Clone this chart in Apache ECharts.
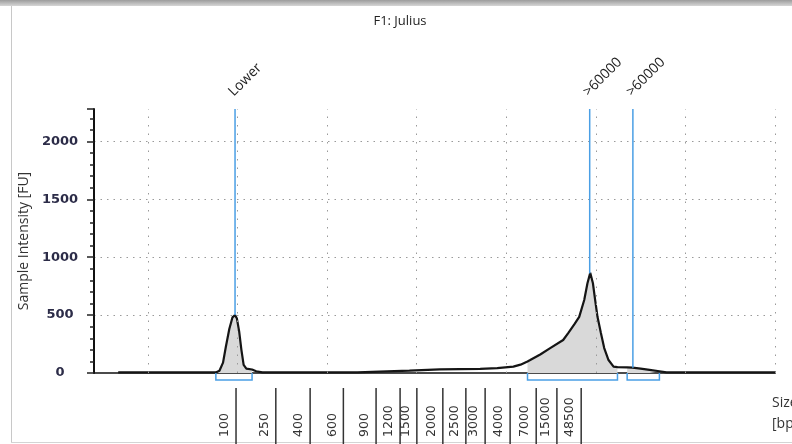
<!DOCTYPE html>
<html>
<head>
<meta charset="utf-8">
<script src="https://cdn.jsdelivr.net/npm/echarts@6/dist/echarts.min.js"></script>
<style>
html,body{margin:0;padding:0;background:#fff;}
#chart{width:792px;height:444px;}
</style>
</head>
<body>
<div id="chart"></div>
<script>
// Electropherogram trace: [migration time (s), intensity FU]
const trace = [
  [46.7, 5], [57.6, 5], [58.0, 20], [58.4, 90], [58.7, 220], [59.1, 380],
  [59.45, 480], [59.74, 500], [59.95, 470], [60.2, 360], [60.45, 200],
  [60.7, 70], [61.0, 38], [61.64, 30], [62.1, 15], [62.8, 6],
  [73.4, 5], [73.45, 18], [79.2, 20], [79.3, 30], [82.6, 32], [87.1, 36],
  [89.0, 42], [90.8, 55], [91.6, 72],
  [92.38, 100], [92.68, 112], [93.8, 160], [94.91, 215], [96.36, 285],
  [96.92, 345], [97.6, 420], [98.15, 485], [98.71, 630], [99.07, 775],
  [99.38, 865], [99.68, 775], [99.93, 630], [100.19, 485], [100.57, 345],
  [100.94, 215], [101.42, 112], [101.98, 55], [102.42, 50],
  [103.5, 48], [104.1, 46], [105.0, 37], [106.0, 27], [107.1, 15],
  [107.9, 6], [120.1, 5]
];
// peak ranges (time) shown as brackets and shaded
const peakRanges = [[57.6, 61.64], [92.38, 102.42], [103.5, 107.1]];
// peak markers: time, intensity at marker, label
const markerTimes = [59.74, 99.32, 104.14];
const markerValues = [500, 860, 46];
const markerLabels = ['Lower', '>60000', '>60000'];
// ladder sizes and their migration times
const ladderTimes = [59.85, 64.29, 68.12, 71.83, 75.48, 78.16, 80.03, 82.93, 85.50, 87.65, 90.44, 93.35, 95.66, 98.37];
const ladderLabels = ['100', '250', '400', '600', '900', '1200', '1500', '2000', '2500', '3000', '4000', '7000', '15000', '48500'];
// vertical grid positions (time)
const gridTimes = [50, 60, 70, 80, 90, 100, 110, 120];
const yTicks = [0, 500, 1000, 1500, 2000];

const X_MIN = 44, X_MAX = 120, Y_MAX = 2280;
const BLUE = '#4a9fe5';

const chart = echarts.init(document.getElementById('chart'), null, {renderer: 'canvas'});

const areaSeries = peakRanges.map(r => ({
  type: 'line',
  data: trace.filter(p => p[0] >= r[0] && p[0] <= r[1]),
  symbol: 'none',
  lineStyle: {width: 0},
  areaStyle: {color: '#d9d9d9', opacity: 1},
  silent: true,
  z: 1
}));

const option = {
  animation: false,
  grid: {left: 94, right: 17, top: 109, bottom: 71, containLabel: false},
  graphic: [
    {type: 'rect', shape: {x: 0, y: 0, width: 792, height: 6},
     style: {fill: new echarts.graphic.LinearGradient(0, 0, 0, 1, [
       {offset: 0, color: '#9c9c9c'}, {offset: 1, color: '#d6d6d6'}])}},
    {type: 'line', shape: {x1: 11.5, y1: 6, x2: 11.5, y2: 443}, style: {stroke: '#c8c8c8', lineWidth: 1}},
    {type: 'line', shape: {x1: 11, y1: 442.5, x2: 792, y2: 442.5}, style: {stroke: '#d4d4d4', lineWidth: 1}},
    {type: 'text', x: 400, y: 21, style: {text: 'F1: Julius', font: '13px "Open Sans"', fill: '#222', align: 'center', verticalAlign: 'middle'}},
    {type: 'text', x: 772, y: 403, style: {text: 'Size', font: '14px "Open Sans"', fill: '#333', align: 'left', verticalAlign: 'middle'}},
    {type: 'text', x: 772, y: 424, style: {text: '[bp]', font: '14px "Open Sans"', fill: '#333', align: 'left', verticalAlign: 'middle'}}
  ],
  xAxis: {
    type: 'value', min: X_MIN, max: X_MAX,
    axisLine: {show: true, onZero: false, lineStyle: {color: '#111', width: 1.5}},
    axisTick: {show: false}, axisLabel: {show: false}, splitLine: {show: false}
  },
  yAxis: {
    type: 'value', min: 0, max: Y_MAX, interval: 500,
    name: 'Sample Intensity [FU]', nameLocation: 'middle', nameGap: 62,
    nameTextStyle: {fontFamily: 'Open Sans', fontSize: 14, color: '#333'},
    axisLine: {show: true, lineStyle: {color: '#111', width: 2}},
    axisTick: {show: true, length: 7, lineStyle: {color: '#222', width: 1.5}},
    minorTick: {show: true, splitNumber: 5, length: 4, lineStyle: {color: '#222', width: 1.5}},
    axisLabel: {
      margin: 34, align: 'center', showMaxLabel: false,
      fontFamily: 'DejaVu Sans', fontWeight: 'bold', fontSize: 13, color: '#2c2c48',
      formatter: v => (yTicks.indexOf(v) >= 0 ? String(v) : '')
    },
    splitLine: {show: true, showMaxLine: false, showMinLine: false, lineStyle: {color: '#9a9a9a', type: [1.5, 5], width: 1}}
  },
  series: [
    ...areaSeries,
    {
      type: 'line', data: trace, symbol: 'none', z: 3,
      lineStyle: {color: '#151515', width: 2.2},
      markLine: {
        silent: true, symbol: ['none', 'none'], animation: false,
        label: {show: false},
        lineStyle: {color: '#9a9a9a', type: [1.5, 7], width: 1},
        emphasis: {disabled: true},
        data: gridTimes.map(t => ({xAxis: t}))
      }
    },
    {
      type: 'custom', clip: false, z: 4, silent: true,
      data: markerTimes.map((t, i) => [t, markerValues[i]]),
      renderItem: (params, api) => {
        const t = api.value(0);
        const p0 = api.coord([t, api.value(1)]);
        const p1 = api.coord([t, Y_MAX]);
        return {type: 'group', children: [
          {type: 'line', shape: {x1: p0[0], y1: p0[1], x2: p1[0], y2: p1[1]}, style: {stroke: BLUE, lineWidth: 1.5}},
          {type: 'text', x: p1[0] - 4, y: p1[1] - 15, rotation: Math.PI / 4,
           style: {text: markerLabels[params.dataIndex], font: '14px "Open Sans"', fill: '#222', align: 'left', verticalAlign: 'middle'}}
        ]};
      }
    },
    {
      type: 'custom', clip: false, z: 4, silent: true,
      data: peakRanges.map(r => [r[0], 0, r[1]]),
      renderItem: (params, api) => {
        const a = api.coord([api.value(0), 0]);
        const b = api.coord([api.value(2), 0]);
        return {type: 'polyline', shape: {points: [[a[0], a[1]], [a[0], a[1] + 7], [b[0], b[1] + 7], [b[0], b[1]]]},
                style: {stroke: BLUE, lineWidth: 1.5, fill: null}};
      }
    },
    {
      type: 'custom', clip: false, z: 4, silent: true,
      data: ladderTimes.map(t => [t, 0]),
      renderItem: (params, api) => {
        const p = api.coord([api.value(0), 0]);
        return {type: 'group', children: [
          {type: 'line', shape: {x1: p[0], y1: p[1] + 15, x2: p[0], y2: p[1] + 80}, style: {stroke: '#333', lineWidth: 1.5}},
          {type: 'text', x: p[0] - 11, y: p[1] + 64, rotation: Math.PI / 2,
           style: {text: ladderLabels[params.dataIndex], font: '12.5px "DejaVu Sans"', fill: '#333', align: 'left', verticalAlign: 'middle'}}
        ]};
      }
    }
  ]
};
chart.setOption(option);
</script>
</body>
</html>
